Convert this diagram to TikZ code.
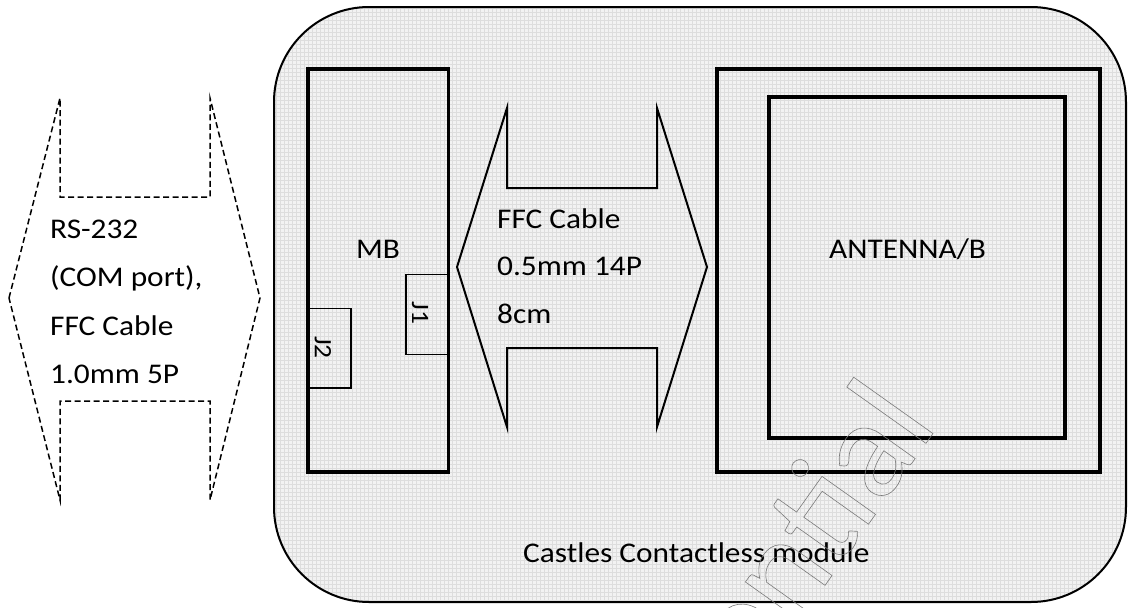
\documentclass[tikz,border=0pt]{standalone}
\usepackage{fontspec}
\setmainfont{Carlito}[FakeStretch=1.1]
\newfontfamily\wmfont{Carlito}
\definecolor{modfill}{HTML}{F2F2F2}
\definecolor{gridline}{HTML}{DDDDDD}
\definecolor{wmgray}{HTML}{7A7A7A}
\begin{document}
\begin{tikzpicture}[x=1pt,y=-1pt,
  thickbox/.style={draw=black,line width=3.5pt},
  thinbox/.style={draw=black,line width=1.5pt},
  lbl/.style={inner sep=0pt,font=\fontsize{28.5}{34}\selectfont},
  jlbl/.style={inner sep=0pt,font=\fontsize{25}{30}\selectfont,rotate=-90},
  wm/.style={inner sep=0pt,text=wmgray,font=\wmfont\fontsize{140}{160}\selectfont}]
\useasboundingbox (0,0) rectangle (1128,608);
\fill[white] (0,0) rectangle (1128,608);
% module with grid texture
\fill[modfill,rounded corners=95pt] (274,7) rectangle (1126,602);
\begin{scope}
\clip[rounded corners=95pt] (274,7) rectangle (1126,602);
\draw[gridline,line width=0.5pt,step=4pt] (274,7) grid (1126,602);
\end{scope}
\draw[black,line width=2pt,rounded corners=95pt] (274,7) rectangle (1126,602);
% left dashed double arrow
\draw[line width=1.5pt,dash pattern=on 6pt off 3.5pt,line join=miter]
  (9,298) -- (60,98) -- (60,197) -- (210,197) -- (210,98) -- (260,298)
  -- (210,500) -- (210,401) -- (60,401) -- (60,500) -- cycle;
% MB board
\draw[thickbox] (308,69) rectangle (448.5,472);
\draw[thinbox] (406,274.5) rectangle (448.5,354.5);
\draw[thinbox] (308,308.5) rectangle (351,388);
% FFC double arrow
\draw[line width=2pt,line join=miter]
  (457,267) -- (507,108) -- (507,188) -- (657,188) -- (657,108) -- (707,267)
  -- (657,427) -- (657,348) -- (507,348) -- (507,427) -- cycle;
% antenna
\draw[thickbox] (717,69) rectangle (1100,472);
\draw[thickbox] (769,97) rectangle (1065,438);
% texts
\node[lbl,anchor=base west] (rs1) at (50,238) {RS-232};
\node[lbl,anchor=base west] (rs2) at (50,286.5) {(COM port),};
\node[lbl,anchor=base west] (rs3) at (50,335) {FFC Cable};
\node[lbl,anchor=base west] (rs4) at (50,383) {1.0mm 5P};
\node[lbl,anchor=base west] (ffc1) at (497,228) {FFC Cable};
\node[lbl,anchor=base west] (ffc2) at (497,275.5) {0.5mm 14P};
\node[lbl,anchor=base west] (ffc3) at (497,323) {8cm};
\node[lbl,anchor=base] (mb) at (378,258) {MB};
\node[lbl,anchor=base] (ant) at (907.5,258) {ANTENNA/B};
\node[lbl,anchor=base west] (mod) at (523,562) {Castles Contactless module};
\node[jlbl] (j1) at (420,313) {J1};
\node[jlbl] (j2) at (323,347.5) {J2};
% watermark
\begin{scope}
\clip (0,0) rectangle (1128,608);
\node[wm,anchor=base east,rotate=54.6] (wmark) at (939,425) {\special{pdf:literal direct 1 Tr 0.6 w}Confidential\special{pdf:literal direct 0 Tr}};
\end{scope}
\end{tikzpicture}
\end{document}
